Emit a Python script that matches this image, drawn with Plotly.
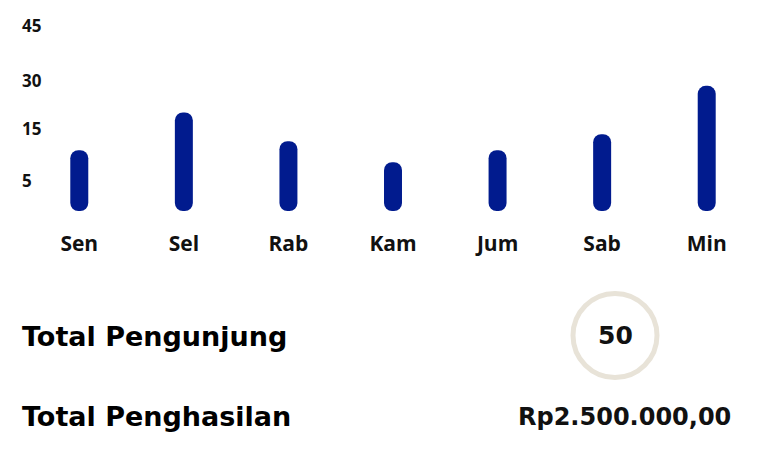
import plotly.graph_objects as go

# ---- data ----
days = ["Sen", "Sel", "Rab", "Kam", "Jum", "Sab", "Min"]
visits = [60.7, 98.4, 69.7, 48.7, 60.7, 76.7, 125.0]          # bar heights in axis units
y_tick_labels = ["5", "15", "30", "45"]
y_tick_vals = [30.7, 82.7, 130.7, 185.7]
total_label_1 = "Total Pengunjung"
total_value_1 = "50"
total_label_2 = "Total Penghasilan"
total_value_2 = "Rp2.500.000,00"

W, H = 765, 470
L, R, T, B = 27, 6, 0, 259.3
PW, PH = W - L - R, H - T - B
BAR_COLOR = "#011B8E"
BAR_W = 0.172
LABEL_FONT = "Open Sans"
TITLE_FONT = "DejaVu Sans"


def px(x):
    return (x - L) / PW


def py(y):
    return (H - B - y) / PH


fig = go.Figure()
# explicit base -> plotly rounds both ends of each bar (pill shape)
fig.add_trace(go.Bar(x=days, y=visits, base=[0] * len(days),
                     width=BAR_W, marker=dict(color=BAR_COLOR, cornerradius="50%", line_width=0),
                     hoverinfo="skip", showlegend=False))

annotations = []
for lab, val in zip(y_tick_labels, y_tick_vals):
    annotations.append(dict(x=px(20), xref="paper", y=val, yref="y", text=lab, showarrow=False,
                            xanchor="left", yanchor="middle",
                            font=dict(family=LABEL_FONT, size=17, color="#111", weight=700)))

annotations += [
    dict(x=px(20), xref="paper", y=py(336), yref="paper", text=total_label_1, showarrow=False,
         xanchor="left", yanchor="middle", font=dict(family=TITLE_FONT, size=27, color="#000", weight=700)),
    dict(x=px(20), xref="paper", y=py(416), yref="paper", text=total_label_2, showarrow=False,
         xanchor="left", yanchor="middle", font=dict(family=TITLE_FONT, size=27, color="#000", weight=700)),
    dict(x=px(615), xref="paper", y=py(335), yref="paper", text=total_value_1, showarrow=False,
         xanchor="center", yanchor="middle", font=dict(family=TITLE_FONT, size=25, color="#111", weight=700)),
    dict(x=px(733), xref="paper", y=py(416), yref="paper", text=total_value_2, showarrow=False,
         xanchor="right", yanchor="middle", font=dict(family=TITLE_FONT, size=24, color="#111", weight=700)),
]

fig.update_layout(
    width=W, height=H,
    margin=dict(l=L, r=R, t=T, b=B, pad=0),
    paper_bgcolor="white", plot_bgcolor="white",
    barmode="overlay",
    hovermode=False,
    xaxis=dict(showgrid=False, zeroline=False, showline=False, ticks="",
               tickfont=dict(family=LABEL_FONT, size=21, color="#111", weight=700),
               ticklabelstandoff=18, fixedrange=True),
    yaxis=dict(range=[0, PH], showgrid=False, zeroline=False, showline=False,
               showticklabels=False, ticks="", fixedrange=True),
    annotations=annotations,
    shapes=[dict(type="circle", xref="paper", yref="paper", xsizemode="pixel", ysizemode="pixel",
                 xanchor=px(615), yanchor=py(335), x0=-42, x1=42, y0=-42, y1=42,
                 line=dict(color="#E8E3D8", width=5), fillcolor="rgba(0,0,0,0)")],
)

fig.write_html("out.html", config={"displayModeBar": False})
